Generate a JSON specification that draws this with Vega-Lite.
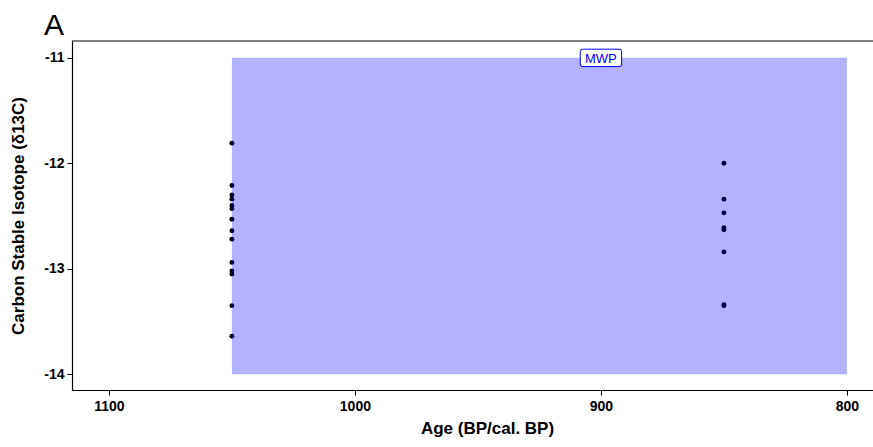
{
  "$schema": "https://vega.github.io/schema/vega-lite/v6.json",
  "width": 801,
  "height": 349,
  "autosize": {"type": "none"},
  "padding": {"left": 72, "top": 41, "right": 0, "bottom": 57},
  "background": "white",
  "config": {
    "view": {"stroke": null},
    "font": "Liberation Sans"
  },
  "title": {
    "text": "A",
    "anchor": "start",
    "frame": "group",
    "fontSize": 30,
    "fontWeight": "normal",
    "font": "Liberation Sans",
    "color": "black",
    "baseline": "alphabetic",
    "offset": 2,
    "dx": -28,
    "dy": 27
  },
  "datasets": {
    "samples": [
      {"age": 1050, "d13c": -11.81},
      {"age": 1050, "d13c": -12.21},
      {"age": 1050, "d13c": -12.30},
      {"age": 1050, "d13c": -12.34},
      {"age": 1050, "d13c": -12.40},
      {"age": 1050, "d13c": -12.43},
      {"age": 1050, "d13c": -12.53},
      {"age": 1050, "d13c": -12.64},
      {"age": 1050, "d13c": -12.72},
      {"age": 1050, "d13c": -12.94},
      {"age": 1050, "d13c": -13.02},
      {"age": 1050, "d13c": -13.05},
      {"age": 1050, "d13c": -13.35},
      {"age": 1050, "d13c": -13.64},
      {"age": 850, "d13c": -12.00},
      {"age": 850, "d13c": -12.34},
      {"age": 850, "d13c": -12.47},
      {"age": 850, "d13c": -12.61},
      {"age": 850, "d13c": -12.63},
      {"age": 850, "d13c": -12.84},
      {"age": 850, "d13c": -13.34},
      {"age": 850, "d13c": -13.35}
    ],
    "period": [
      {"name": "MWP", "start": 1050, "end": 800, "low": -14, "high": -11, "labelAge": 900, "labelY": -11}
    ]
  },
  "layer": [
    {
      "data": {"name": "samples"},
      "mark": {"type": "circle", "size": 24, "color": "black", "opacity": 1},
      "encoding": {
        "x": {
          "field": "age",
          "type": "quantitative",
          "scale": {"domain": [1115, 789.4], "nice": false, "zero": false},
          "axis": {
            "values": [1100, 1000, 900, 800],
            "labelExpr": "toString(datum.value)",
            "title": "Age (BP/cal. BP)",
            "grid": false,
            "domainColor": "black",
            "domainWidth": 1.2,
            "tickColor": "black",
            "tickSize": 5,
            "labelPadding": 4,
            "labelFontSize": 14,
            "labelFontWeight": "bold",
            "labelColor": "black",
            "labelFont": "Liberation Sans",
            "titleFontSize": 17,
            "titleFontWeight": "bold",
            "titleColor": "black",
            "titleFont": "Liberation Sans",
            "titleX": 415,
            "titleY": 43,
            "titleBaseline": "alphabetic",
            "titleAlign": "center"
          }
        },
        "y": {
          "field": "d13c",
          "type": "quantitative",
          "scale": {"domain": [-14.15, -10.84], "nice": false, "zero": false},
          "axis": {
            "values": [-14, -13, -12, -11],
            "labelExpr": "toString(datum.value)",
            "title": "Carbon Stable Isotope (δ13C)",
            "grid": false,
            "domainColor": "black",
            "domainWidth": 1.2,
            "tickColor": "black",
            "tickSize": 5,
            "labelPadding": 3,
            "labelFontSize": 14,
            "labelFontWeight": "bold",
            "labelColor": "black",
            "labelFont": "Liberation Sans",
            "titleFontSize": 17,
            "titleFontWeight": "bold",
            "titleColor": "black",
            "titleFont": "Liberation Sans",
            "titleX": -54,
            "titleBaseline": "middle",
            "titleAlign": "center"
          }
        }
      }
    },
    {
      "data": {"name": "period"},
      "mark": {"type": "rect", "color": "blue", "opacity": 0.3},
      "encoding": {
        "x": {"field": "start", "type": "quantitative"},
        "x2": {"field": "end"},
        "y": {"field": "low", "type": "quantitative"},
        "y2": {"field": "high"}
      }
    },
    {
      "data": {"name": "period"},
      "mark": {
        "type": "point",
        "filled": true,
        "fill": "white",
        "fillOpacity": 1,
        "stroke": "blue",
        "strokeWidth": 1,
        "opacity": 1,
        "size": 1706,
        "shape": "M -0.88 -0.42 L 0.88 -0.42 Q 1 -0.42 1 -0.3 L 1 0.3 Q 1 0.42 0.88 0.42 L -0.88 0.42 Q -1 0.42 -1 0.3 L -1 -0.3 Q -1 -0.42 -0.88 -0.42 Z"
      },
      "encoding": {
        "x": {"field": "labelAge", "type": "quantitative"},
        "y": {"field": "labelY", "type": "quantitative"}
      }
    },
    {
      "data": {"name": "period"},
      "mark": {"type": "text", "color": "blue", "fontSize": 13, "font": "Liberation Sans", "baseline": "middle", "align": "center", "dy": 1},
      "encoding": {
        "x": {"field": "labelAge", "type": "quantitative"},
        "y": {"field": "labelY", "type": "quantitative"},
        "text": {"field": "name"}
      }
    },
    {
      "data": {"name": "period"},
      "mark": {"type": "rule", "color": "black", "strokeWidth": 1.2},
      "encoding": {
        "x": {"datum": 1115, "type": "quantitative"},
        "x2": {"datum": 789.4},
        "y": {"datum": -10.84, "type": "quantitative"}
      }
    }
  ]
}
